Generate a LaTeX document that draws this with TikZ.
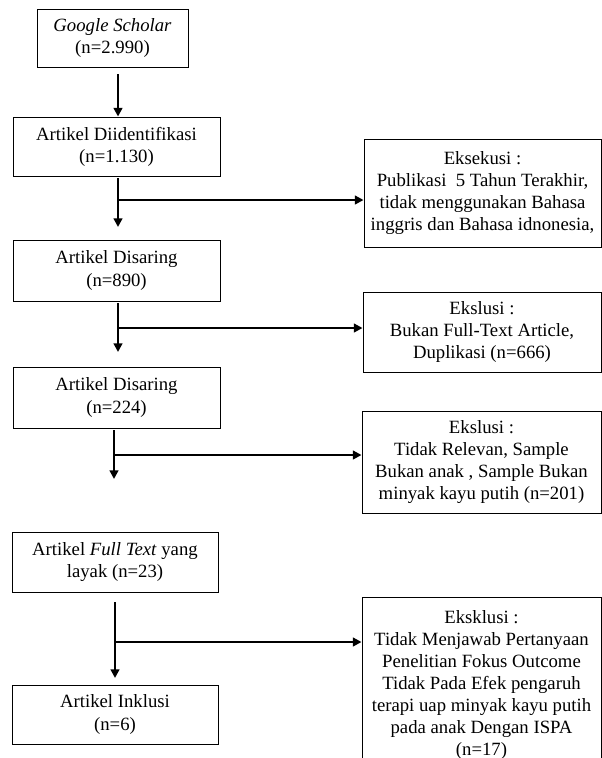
\documentclass[tikz,border=0pt]{standalone}
\usepackage{fontspec}
\setmainfont{Liberation Serif}
\usetikzlibrary{arrows.meta}
\newcommand{\px}{0.641pt}

\begin{document}
\begin{tikzpicture}[x=\px, y=-\px,
        box/.style = {draw, line width=0.6pt, align=center, inner sep=0pt,
          font=\fontsize{12}{14.2}\selectfont},
        arr/.style = {line width=1.5pt, -{Triangle[length=5.5pt, width=5.5pt]}}]
        \useasboundingbox (0,0) rectangle (602,758);
        \clip (0,0) rectangle (602,758);
        % left column
        \node[box, minimum width=151*\px, minimum height=58*\px] (scholar) at (112.5,38)
          {\textit{Google Scholar}\\(n=2.990)};
        \node[box, minimum width=207*\px, minimum height=59*\px] (ident) at (116.5,146.5)
          {Artikel Diidentifikasi\\(n=1.130)};
        \node[box, minimum width=207*\px, minimum height=61*\px] (saringA) at (116.5,270.5)
          {Artikel Disaring\\(n=890)};
        \node[box, minimum width=207*\px, minimum height=61*\px] (saringB) at (116.5,397.5)
          {Artikel Disaring\\(n=224)};
        \node[box, minimum width=206*\px, minimum height=60*\px] (layak) at (115,562)
          {Artikel \textit{Full Text} yang\\layak (n=23)};
        \node[box, minimum width=206*\px, minimum height=59*\px] (inklusi) at (115,714.5)
          {Artikel Inklusi\\(n=6)};
        % right column
        \node[box, minimum width=237*\px, minimum height=108*\px] (eksekusi) at (482.5,193)
          {Eksekusi :\\Publikasi\ \ 5 Tahun Terakhir,\\tidak menggunakan Bahasa\\inggris dan Bahasa idnonesia,};
        \node[box, minimum width=238*\px, minimum height=80*\px] (ekslusiA) at (482,332)
          {Ekslusi :\\Bukan Full-Text Article,\\Duplikasi (n=666)};
        \node[box, minimum width=239*\px, minimum height=102*\px] (ekslusiB) at (481.5,462)
          {Ekslusi :\\Tidak Relevan, Sample\\Bukan anak , Sample Bukan\\minyak kayu putih (n=201)};
        \node[box, anchor=north, minimum width=239*\px, minimum height=175*\px] (eksklusi) at (481.5,597)
          {Eksklusi :\\Tidak Menjawab Pertanyaan\\Penelitian Fokus Outcome\\Tidak Pada Efek pengaruh\\terapi uap minyak kayu putih\\pada anak Dengan ISPA\\(n=17)};
        % arrows
        \coordinate (top) at (118,74);
        \draw[arr] (top) -- (top |- ident.north);
        \foreach \xa/\ys/\ye/\yk/\r in {118/178/227/200/eksekusi, 118/303/352/328/ekslusiA,
          114/430/479/455/ekslusiB, 115/602/678/642/eksklusi} {
          \coordinate (s\r) at (\xa,\ys);
          \coordinate (e\r) at (\xa,\ye);
          \coordinate (k\r) at (\xa,\yk);
          \draw[arr] (s\r) -- (e\r);
          \draw[arr] (k\r) -- (k\r -| \r.west);
        }
      \end{tikzpicture}
\end{document}
